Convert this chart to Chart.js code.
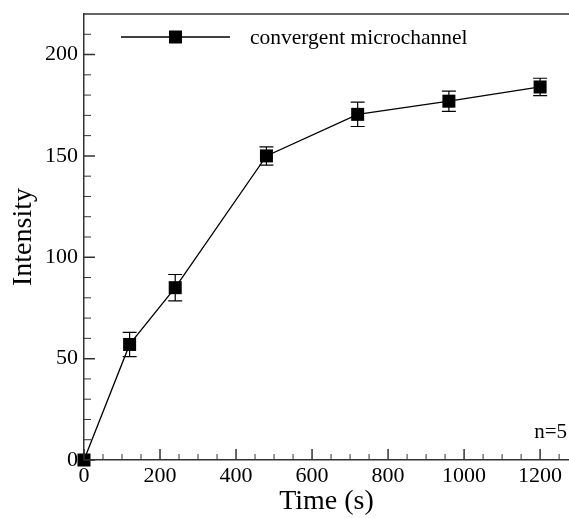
<!DOCTYPE html>
<html>
<head>
<meta charset="utf-8">
<script src="https://cdn.jsdelivr.net/npm/chart.js@4"></script>
<style>
  html, body { margin: 0; padding: 0; background: #fff; }
  #wrap { width: 569px; height: 518px; }
</style>
</head>
<body>
<div id="wrap"><canvas id="myChart"></canvas></div>
<script>
// Data
const timeValues = [0, 120, 240, 480, 720, 960, 1200];
const intensityValues = [0, 57, 85, 150, 170.5, 177, 184];
const errorValues = [0, 6, 6.5, 4.5, 6, 5, 4.3];

// Tick positions
const xTickValues = [0, 200, 400, 600, 800, 1000, 1200];
const yTickValues = [0, 50, 100, 150, 200];
const xMinorTicks = [50, 100, 150, 250, 300, 350, 450, 500, 550, 650, 700, 750, 850, 900, 950, 1050, 1100, 1150, 1250];
const yMinorTicks = [10, 20, 30, 40, 60, 70, 80, 90, 110, 120, 130, 140, 160, 170, 180, 190, 210];

const seriesLabel = "convergent microchannel";
const noteText = "n=5";

const serif = "'Liberation Serif', 'Times New Roman', serif";
const axisColor = "#333";

// error bars, inward ticks, top frame, legend and note
const extrasPlugin = {
    id: "extras",
    beforeDatasetsDraw(chart) {
        const ctx = chart.ctx;
        const xs = chart.scales.x, ys = chart.scales.y;
        ctx.save();
        ctx.strokeStyle = "#000";
        ctx.lineWidth = 1.2;
        timeValues.forEach((t, i) => {
            if (!errorValues[i]) return;
            const px = xs.getPixelForValue(t);
            const top = ys.getPixelForValue(intensityValues[i] + errorValues[i]);
            const bot = ys.getPixelForValue(intensityValues[i] - errorValues[i]);
            ctx.beginPath();
            ctx.moveTo(px, top); ctx.lineTo(px, bot);
            ctx.moveTo(px - 7, top); ctx.lineTo(px + 7, top);
            ctx.moveTo(px - 7, bot); ctx.lineTo(px + 7, bot);
            ctx.stroke();
        });
        ctx.restore();
    },
    afterDraw(chart) {
        const ctx = chart.ctx;
        const area = chart.chartArea;
        const xs = chart.scales.x, ys = chart.scales.y;
        ctx.save();
        ctx.strokeStyle = axisColor;
        ctx.lineWidth = 1.5;
        // top frame line
        ctx.beginPath();
        ctx.moveTo(area.left, area.top);
        ctx.lineTo(area.right, area.top);
        ctx.stroke();
        // ticks pointing into the plot
        ctx.beginPath();
        xTickValues.forEach(v => {
            const px = xs.getPixelForValue(v);
            ctx.moveTo(px, area.bottom); ctx.lineTo(px, area.bottom - 11);
        });
        yTickValues.forEach(v => {
            const py = ys.getPixelForValue(v);
            ctx.moveTo(area.left, py); ctx.lineTo(area.left + 11, py);
        });
        ctx.stroke();
        ctx.lineWidth = 1;
        ctx.beginPath();
        xMinorTicks.forEach(v => {
            const px = xs.getPixelForValue(v);
            ctx.moveTo(px, area.bottom); ctx.lineTo(px, area.bottom - 6);
        });
        yMinorTicks.forEach(v => {
            const py = ys.getPixelForValue(v);
            ctx.moveTo(area.left, py); ctx.lineTo(area.left + 7, py);
        });
        ctx.stroke();

        // legend inside the plot
        const ly = area.top + 23;
        const lx0 = area.left + 37, lx1 = area.left + 146;
        ctx.strokeStyle = "#000";
        ctx.lineWidth = 1.3;
        ctx.beginPath();
        ctx.moveTo(lx0, ly); ctx.lineTo(lx1, ly);
        ctx.stroke();
        ctx.fillStyle = "#000";
        const mid = (lx0 + lx1) / 2;
        ctx.fillRect(mid - 6.5, ly - 6.5, 13, 13);
        ctx.font = "21.5px " + serif;
        ctx.textBaseline = "middle";
        ctx.textAlign = "left";
        ctx.fillText(seriesLabel, area.left + 166, ly + 1);

        // sample count note
        ctx.font = "21px " + serif;
        ctx.textAlign = "right";
        ctx.textBaseline = "alphabetic";
        ctx.fillText(noteText, area.right - 2, area.bottom - 22);
        ctx.restore();
    }
};

const ctx = document.getElementById("myChart").getContext("2d");
const myChart = new Chart(ctx, {
    type: "line",
    data: {
        datasets: [{
            label: seriesLabel,
            data: timeValues.map((t, i) => ({ x: t, y: intensityValues[i] })),
            borderColor: "#000",
            backgroundColor: "#000",
            borderWidth: 1.3,
            pointStyle: "rect",
            pointRadius: 9.2,
            pointHoverRadius: 9.2,
            pointBorderWidth: 0,
            tension: 0,
            clip: false
        }]
    },
    options: {
        responsive: true,
        maintainAspectRatio: false,
        animation: false,
        events: [],
        layout: { autoPadding: false, padding: { top: 14, right: 0, left: 0, bottom: 0 } },
        plugins: {
            legend: { display: false },
            tooltip: { enabled: false }
        },
        scales: {
            x: {
                type: "linear",
                min: 0,
                max: 1276,
                afterBuildTicks: scale => { scale.ticks = xTickValues.map(v => ({ value: v })); },
                afterFit: scale => {
                    scale.height = 58;
                    scale.paddingLeft = 0;
                    scale.paddingRight = 0;
                },
                grid: { display: false, drawTicks: false },
                border: { display: true, color: axisColor, width: 1.5 },
                ticks: {
                    color: "#000",
                    font: { family: serif, size: 22 },
                    padding: 3,
                    maxRotation: 0,
                    autoSkip: false,
                    callback: v => String(v)
                },
                title: {
                    display: true,
                    text: "Time (s)",
                    color: "#000",
                    font: { family: serif, size: 28 },
                    padding: { top: 0, bottom: 0 }
                }
            },
            y: {
                type: "linear",
                min: 0,
                max: 220,
                afterBuildTicks: scale => { scale.ticks = yTickValues.map(v => ({ value: v })); },
                afterFit: scale => {
                    scale.width = 84;
                    scale.paddingTop = 0;
                    scale.paddingBottom = 0;
                },
                grid: { display: false, drawTicks: false },
                border: { display: true, color: axisColor, width: 1.5 },
                ticks: {
                    color: "#000",
                    font: { family: serif, size: 22 },
                    padding: 6,
                    autoSkip: false,
                    callback: v => String(v)
                },
                title: {
                    display: true,
                    text: "Intensity",
                    color: "#000",
                    font: { family: serif, size: 28 },
                    padding: { top: 7, bottom: 0 }
                }
            }
        }
    },
    plugins: [extrasPlugin]
});
</script>
</body>
</html>
